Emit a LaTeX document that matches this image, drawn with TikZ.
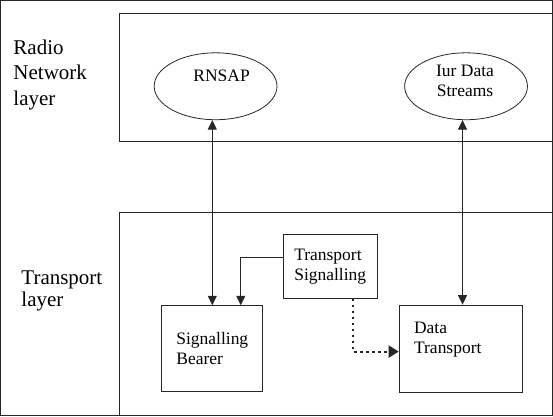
\documentclass[tikz,border=0pt]{standalone}
\usepackage{fontspec}
\setmainfont{Liberation Serif}
\usetikzlibrary{arrows.meta,shapes.geometric}
\newcommand{\boxfont}{\fontsize{17.5}{20}\selectfont}
\begin{document}
\begin{tikzpicture}[x=1pt,y=-1pt,line width=0.8pt,
  every path/.style={draw=black!85},
  blob/.style={ellipse,draw,minimum width=123pt,minimum height=67pt,inner sep=0pt},
  boxnode/.style={draw,rectangle,inner sep=0pt,font=\boxfont,align=left},
  layerlbl/.style={anchor=north west,align=left,inner sep=0pt},
  tri/.style={-{Triangle[length=9.5pt,width=9pt]}},
  dtri/.style={{Triangle[length=9.5pt,width=9pt]}-{Triangle[length=9.5pt,width=9pt]}},
  dotarr/.style={-{Triangle[length=10pt,width=12pt]},line width=2pt,dash pattern=on 2.5pt off 3.5pt},
]
\useasboundingbox (0,0) rectangle (553,416);
% layer frames
\draw (553,12.7) -- (119,12.7) -- (119,141) -- (553,141);
\draw (553,212.7) -- (119,212.7) -- (119,416);
% layer labels
\node[layerlbl,font=\fontsize{21}{25.5}\selectfont] (rnl) at (12.7,39) {Radio\\Network\\layer};
\node[layerlbl,font=\fontsize{21}{22}\selectfont] (tl) at (20.7,270.7) {Transport\\layer};
% radio network layer entities
\node[blob,label={[font=\boxfont,xshift=6pt,yshift=10pt]center:RNSAP}] (rnsap) at (215.5,86) {};
\node[blob,label={[font=\boxfont,align=center,xshift=-1pt,yshift=5.5pt]center:Iur Data\\Streams}] (iur) at (466.3,86) {};
% transport layer entities
\node[boxnode,minimum width=101pt,minimum height=86pt] (sb) at (212.2,348.7) {Signalling\\Bearer};
\node[boxnode,minimum width=94pt,minimum height=64.3pt] (ts) at (330.3,266.2) {Transport\\Signalling};
\node[boxnode,minimum width=123pt,minimum height=87.3pt,
  label={[anchor=north west,align=left,inner sep=0pt,font=\boxfont,xshift=15pt,yshift=-17.5pt]north west:Data\\Transport}] (dt) at (460.8,348.7) {};
% connectors
\draw[dtri] (sb.north) -- (sb.north |- rnsap.south);
\draw[dtri] ([xshift=2pt]dt.north) -- ([xshift=2pt]dt.north |- iur.south);
\draw[tri] ([yshift=9pt]ts.west) -| ([xshift=28.5pt]sb.north);
\draw[dotarr] ([xshift=23pt]ts.south) |- ([yshift=-3pt]dt.west);
\end{tikzpicture}
\end{document}
